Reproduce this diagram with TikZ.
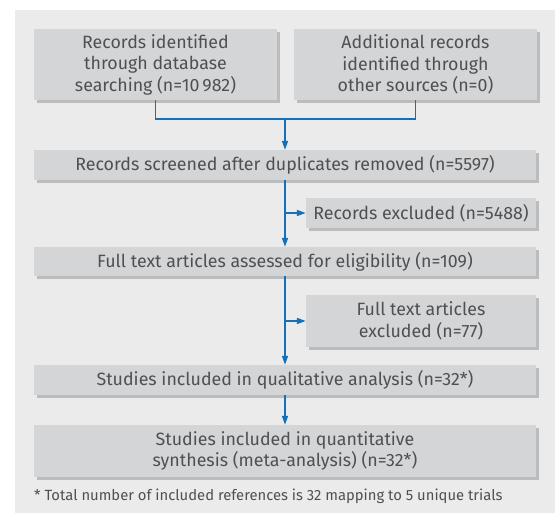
\documentclass[tikz,border=0pt]{standalone}
\usepackage{fontspec}
\setmainfont{Fira Sans}
\usepackage{tikz}
\usetikzlibrary{positioning, arrows.meta, shadows}
\usepackage{xcolor}
\definecolor{PanelGray}{HTML}{EBEBEB}
\definecolor{BoxGray}{HTML}{D4D5D7}
\definecolor{ShadowGray}{HTML}{BBBCBE}
\definecolor{FlowBlue}{HTML}{1570B8}
\definecolor{TextGray}{HTML}{505050}

\begin{document}
\begin{tikzpicture}[x=1pt, y=-1pt,
    box/.style={fill=BoxGray, text=TextGray, align=center, inner sep=0pt,
        font=\fontsize{17.8}{21.5}\selectfont,
        drop shadow={shadow xshift=3pt, shadow yshift=-3pt, fill=ShadowGray, opacity=1}},
    flow/.style={FlowBlue, line width=1.6pt, -{Triangle[length=9pt, width=6pt]}},
    link/.style={FlowBlue, line width=1.6pt}]
    \useasboundingbox (0,0) rectangle (555,513);
    \fill[PanelGray] (15,10) rectangle (555,513);

    \node[box, minimum width=243pt, minimum height=71pt] (database) at (155.5,64.5)
        {Records identified\\through database\\searching (n=10\,982)};
    \node[box, minimum width=243pt, minimum height=71pt] (other) at (415.5,64.5)
        {Additional records\\identified through\\other sources (n=0)};
    \node[box, minimum width=502pt, minimum height=30pt] (screened) at (285,165)
        {Records screened after duplicates removed (n=5597)};
    \node[box, minimum width=230pt, minimum height=30pt] (excluded) at (421,213)
        {Records excluded (n=5488)};
    \node[box, minimum width=502pt, minimum height=29pt] (fulltext) at (285,261.5)
        {Full text articles assessed for eligibility (n=109)};
    \node[box, minimum width=230pt, minimum height=52pt] (ftexcluded) at (421,321)
        {Full text articles\\excluded (n=77)};
    \node[box, minimum width=502pt, minimum height=30pt] (qualitative) at (285,380)
        {Studies included in qualitative analysis (n=32*)};
    \node[box, minimum width=502pt, minimum height=52pt] (quantitative) at (285,451)
        {Studies included in quantitative\\synthesis (meta-analysis) (n=32*)};
    \node[anchor=west, text=TextGray, inner sep=0pt, font=\fontsize{14.8}{17}\selectfont] (note) at (34,496)
        {* Total number of included references is 32 mapping to 5 unique trials};

    % Merge of the two sources
    \coordinate (join) at (285,119);
    \draw[link] (database.south) |- (join) -| (other.south);
    \draw[flow] (join) -- (screened.north);

    % Main flow and exclusions
    \draw[flow] (screened.south) -- (fulltext.north);
    \draw[flow] (screened.south |- excluded.west) -- (excluded.west);
    \draw[flow] (fulltext.south) -- (qualitative.north);
    \draw[flow] (fulltext.south |- ftexcluded.west) -- (ftexcluded.west);
    \draw[flow] (qualitative.south) -- (quantitative.north);
\end{tikzpicture}
\end{document}
